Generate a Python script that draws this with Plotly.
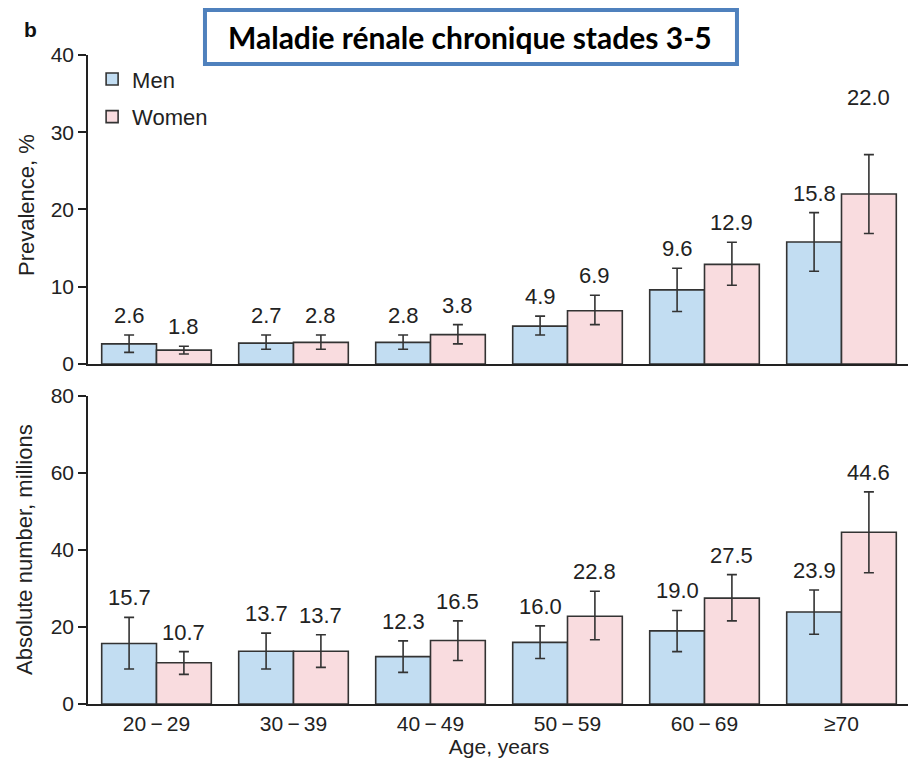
import plotly.graph_objects as go
from plotly.subplots import make_subplots

categories = ["20\u2009\u2212\u200929", "30\u2009\u2212\u200939", "40\u2009\u2212\u200949",
              "50\u2009\u2212\u200959", "60\u2009\u2212\u200969", "\u226570"]

prev_men = [2.6, 2.7, 2.8, 4.9, 9.6, 15.8]
prev_men_hi = [3.75, 3.75, 3.75, 6.2, 12.4, 19.6]
prev_men_lo = [1.5, 1.9, 1.9, 3.75, 6.8, 12.0]
prev_women = [1.8, 2.8, 3.8, 6.9, 12.9, 22.0]
prev_women_hi = [2.3, 3.75, 5.1, 8.9, 15.75, 27.1]
prev_women_lo = [1.3, 1.9, 2.6, 5.1, 10.2, 16.9]

abs_men = [15.7, 13.7, 12.3, 16.0, 19.0, 23.9]
abs_men_hi = [22.5, 18.4, 16.4, 20.3, 24.3, 29.6]
abs_men_lo = [9.1, 9.1, 8.2, 11.8, 13.6, 18.1]
abs_women = [10.7, 13.7, 16.5, 22.8, 27.5, 44.6]
abs_women_hi = [13.6, 18.0, 21.6, 29.3, 33.6, 55.1]
abs_women_lo = [7.7, 9.5, 11.3, 16.7, 21.6, 34.1]

MEN_COLOR = "#c2ddf2"
WOMEN_COLOR = "#f9dcdf"
EDGE = "#333333"
FONT = "Liberation Sans, Arial, sans-serif"
TXT = "#222222"

fig = make_subplots(rows=2, cols=1, shared_xaxes=False, vertical_spacing=0.05)


def add_bars(row, vals, hi, lo, name, color, show, group):
    fig.add_trace(
        go.Bar(
            x=categories,
            y=vals,
            name=name,
            legendgroup=group,
            showlegend=show,
            marker=dict(color=color, line=dict(color=EDGE, width=1.6)),
            error_y=dict(
                type="data",
                symmetric=False,
                array=[h - v for h, v in zip(hi, vals)],
                arrayminus=[v - l for v, l in zip(vals, lo)],
                color=EDGE,
                thickness=1.6,
                width=5,
            ),
        ),
        row=row,
        col=1,
    )


add_bars(1, prev_men, prev_men_hi, prev_men_lo, "Men", MEN_COLOR, True, "m")
add_bars(1, prev_women, prev_women_hi, prev_women_lo, "Women", WOMEN_COLOR, True, "w")
add_bars(2, abs_men, abs_men_hi, abs_men_lo, "Men", MEN_COLOR, False, "m")
add_bars(2, abs_women, abs_women_hi, abs_women_lo, "Women", WOMEN_COLOR, False, "w")

annotations = []
extra_shift = {("1", 1, 5): 38}


def add_labels(axis, vals, hi, offset, key):
    for i, (v, h) in enumerate(zip(vals, hi)):
        annotations.append(
            dict(
                x=i + offset,
                y=h,
                xref="x" + ("" if axis == "1" else axis),
                yref="y" + ("" if axis == "1" else axis),
                text=f"{v:.1f}",
                showarrow=False,
                yanchor="bottom",
                yshift=5 + extra_shift.get((axis, key, i), 0),
                font=dict(family=FONT, size=22, color=TXT),
            )
        )


add_labels("1", prev_men, prev_men_hi, -0.2, 0)
add_labels("1", prev_women, prev_women_hi, 0.2, 1)
add_labels("2", abs_men, abs_men_hi, -0.2, 0)
add_labels("2", abs_women, abs_women_hi, 0.2, 1)

# panel letter and boxed title
annotations.append(
    dict(x=-0.08, y=1.04, xref="paper", yref="paper", text="<b>b</b>", showarrow=False,
         font=dict(family=FONT, size=21, color="#111"), xanchor="left", yanchor="middle")
)
annotations.append(
    dict(x=0.4647, y=1.0277, xref="paper", yref="paper",
         text="<b>Maladie rénale chronique stades 3-5</b>", showarrow=False,
         font=dict(family="Lato, Carlito, Calibri, sans-serif", size=30, color="#000"),
         xanchor="center", yanchor="middle")
)
# y axis titles
annotations.append(
    dict(x=-0.0742, y=0.7689, xref="paper", yref="paper", text="Prevalence, %", textangle=-90,
         xanchor="center", yanchor="middle",
         showarrow=False, font=dict(family=FONT, size=22, color=TXT))
)
annotations.append(
    dict(x=-0.0766, y=0.2373, xref="paper", yref="paper", text="Absolute number, millions", textangle=-90,
         xanchor="center", yanchor="middle",
         showarrow=False, font=dict(family=FONT, size=22, color=TXT))
)

# the page body adds an 8px margin, so the figure is drawn 8px smaller
fig.update_layout(
    width=908,
    height=758,
    margin=dict(l=80, r=6, t=47, b=62),
    paper_bgcolor="white",
    plot_bgcolor="white",
    barmode="group",
    bargap=0.2,
    bargroupgap=0,
    font=dict(family=FONT, size=21, color=TXT),
    showlegend=True,
    legend=dict(
        x=0.005, y=0.995, xanchor="left", yanchor="top",
        traceorder="grouped", tracegroupgap=6,
        font=dict(family=FONT, size=22, color=TXT),
        bgcolor="rgba(0,0,0,0)",
        itemwidth=30,
    ),
    annotations=annotations,
    shapes=[
        dict(type="rect", xref="paper", yref="paper", x0=0.1423, x1=0.7895, y0=0.9861, y1=1.0693,
             line=dict(color="#4f81bd", width=4), fillcolor="white", layer="above")
    ],
)

axis_common = dict(showline=True, linecolor=TXT, linewidth=1.6, showgrid=False, zeroline=False)

fig.update_xaxes(**axis_common, ticks="", range=[-0.5, 5.5])
fig.update_xaxes(showticklabels=False, row=1, col=1)
fig.update_xaxes(showticklabels=True, tickfont=dict(size=21), row=2, col=1,
                 title=dict(text="Age, years", font=dict(size=21), standoff=4))

fig.update_yaxes(**axis_common, ticks="outside", ticklen=8, tickwidth=1.6, tickcolor=TXT,
                 tickfont=dict(size=21))
fig.update_yaxes(range=[0, 40], tickvals=[0, 10, 20, 30, 40], domain=[0.5239, 1.0], row=1, col=1)
fig.update_yaxes(range=[0, 80], tickvals=[0, 20, 40, 60, 80], domain=[0.0, 0.4746], row=2, col=1)

fig.write_html("out.html")
